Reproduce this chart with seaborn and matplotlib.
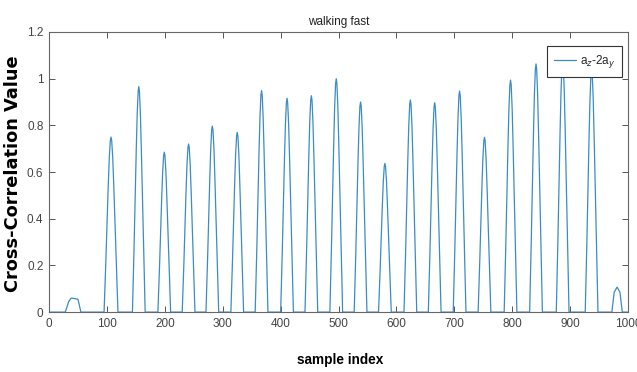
import numpy as np
import pandas as pd
import matplotlib
matplotlib.use('Agg')
import matplotlib.pyplot as plt
import seaborn as sns

# Peaks of the cross-correlation
peak_center = [107, 155, 199, 241, 282, 325, 367, 411, 453, 496, 538, 580,
               624, 666, 709, 752, 797, 841, 887, 937]
peak_height = [0.75, 0.966, 0.685, 0.72, 0.797, 0.77, 0.949, 0.916, 0.927, 1.0,
               0.90, 0.637, 0.909, 0.897, 0.947, 0.749, 0.994, 1.063, 1.08, 1.04]
peak_halfwidth = [12, 11, 11, 11, 11, 11, 11, 11, 11, 11, 11, 11,
                  11, 11, 11, 11, 11, 11, 11, 11]

# shape of one peak: offset (fraction of halfwidth) vs level (fraction of height)
profile_offset = [-1.0, -0.75, -0.58, -0.4, -0.25, -0.1, 0.0, 0.1, 0.25, 0.4, 0.58, 0.75, 1.0]
profile_level = [0.0, 0.28, 0.5, 0.72, 0.88, 0.98, 1.0, 0.98, 0.88, 0.72, 0.5, 0.28, 0.0]

# small bumps at the ends
bump_x = [0, 28, 34, 38, 44, 50, 55]
bump_y = [0, 0, 0.045, 0.06, 0.058, 0.055, 0]
tail_x = [972, 976, 981, 986, 990, 1000]
tail_y = [0, 0.085, 0.107, 0.085, 0.0, 0]

xs = list(bump_x)
ys = list(bump_y)
for c, h, w in zip(peak_center, peak_height, peak_halfwidth):
    for o, l in zip(profile_offset, profile_level):
        xs.append(c + o * w)
        ys.append(h * l)
xs += tail_x
ys += tail_y

df = pd.DataFrame({'sample index': xs, 'value': ys})

sns.set_theme(style='white')
plt.rcParams['font.family'] = ['Liberation Sans Narrow', 'Liberation Sans', 'DejaVu Sans']

fig = plt.figure(figsize=(6.37, 3.72), dpi=100)
ax = fig.add_axes([0.077, 0.161, 0.909, 0.753])

sns.lineplot(data=df, x='sample index', y='value', ax=ax, color='#3a8cc4',
             linewidth=0.9, sort=False, estimator=None, label=r'a$_z$-2a$_y$')

ax.set_xlim(0, 1000)
ax.set_ylim(0, 1.2)
ax.set_xticks(np.arange(0, 1001, 100))
ax.set_yticks([0, 0.2, 0.4, 0.6, 0.8, 1.0, 1.2])
ax.set_yticklabels(['0', '0.2', '0.4', '0.6', '0.8', '1', '1.2'])
ax.tick_params(direction='in', length=4, width=0.7, colors='#555555',
               labelsize=8.5, top=True, right=True, bottom=True, left=True,
               labelcolor='#444444', pad=4)
for s in ax.spines.values():
    s.set_color('#666666')
    s.set_linewidth(0.8)

ax.set_title('walking fast', fontsize=8.5, color='#222222', pad=5)
ax.set_xlabel('sample index', fontsize=9.8, fontweight='bold', color='black',
              family=['Liberation Sans', 'DejaVu Sans'])
ax.xaxis.set_label_coords(0.502, -0.146)
ax.set_ylabel('Cross-Correlation Value', fontsize=12.8, fontweight='heavy', color='black',
              family=['DejaVu Sans'])
ax.yaxis.set_label_coords(-0.046, 0.495)

leg = ax.legend(loc='upper right', fontsize=8.5, frameon=True, fancybox=False,
                handlelength=1.9, handletextpad=0.3, borderpad=0.6,
                borderaxespad=0.0, framealpha=1.0, bbox_to_anchor=(0.99, 0.95))
leg.get_frame().set_edgecolor('#333333')
leg.get_frame().set_linewidth(0.8)

fig.savefig('out.png', dpi=100)
